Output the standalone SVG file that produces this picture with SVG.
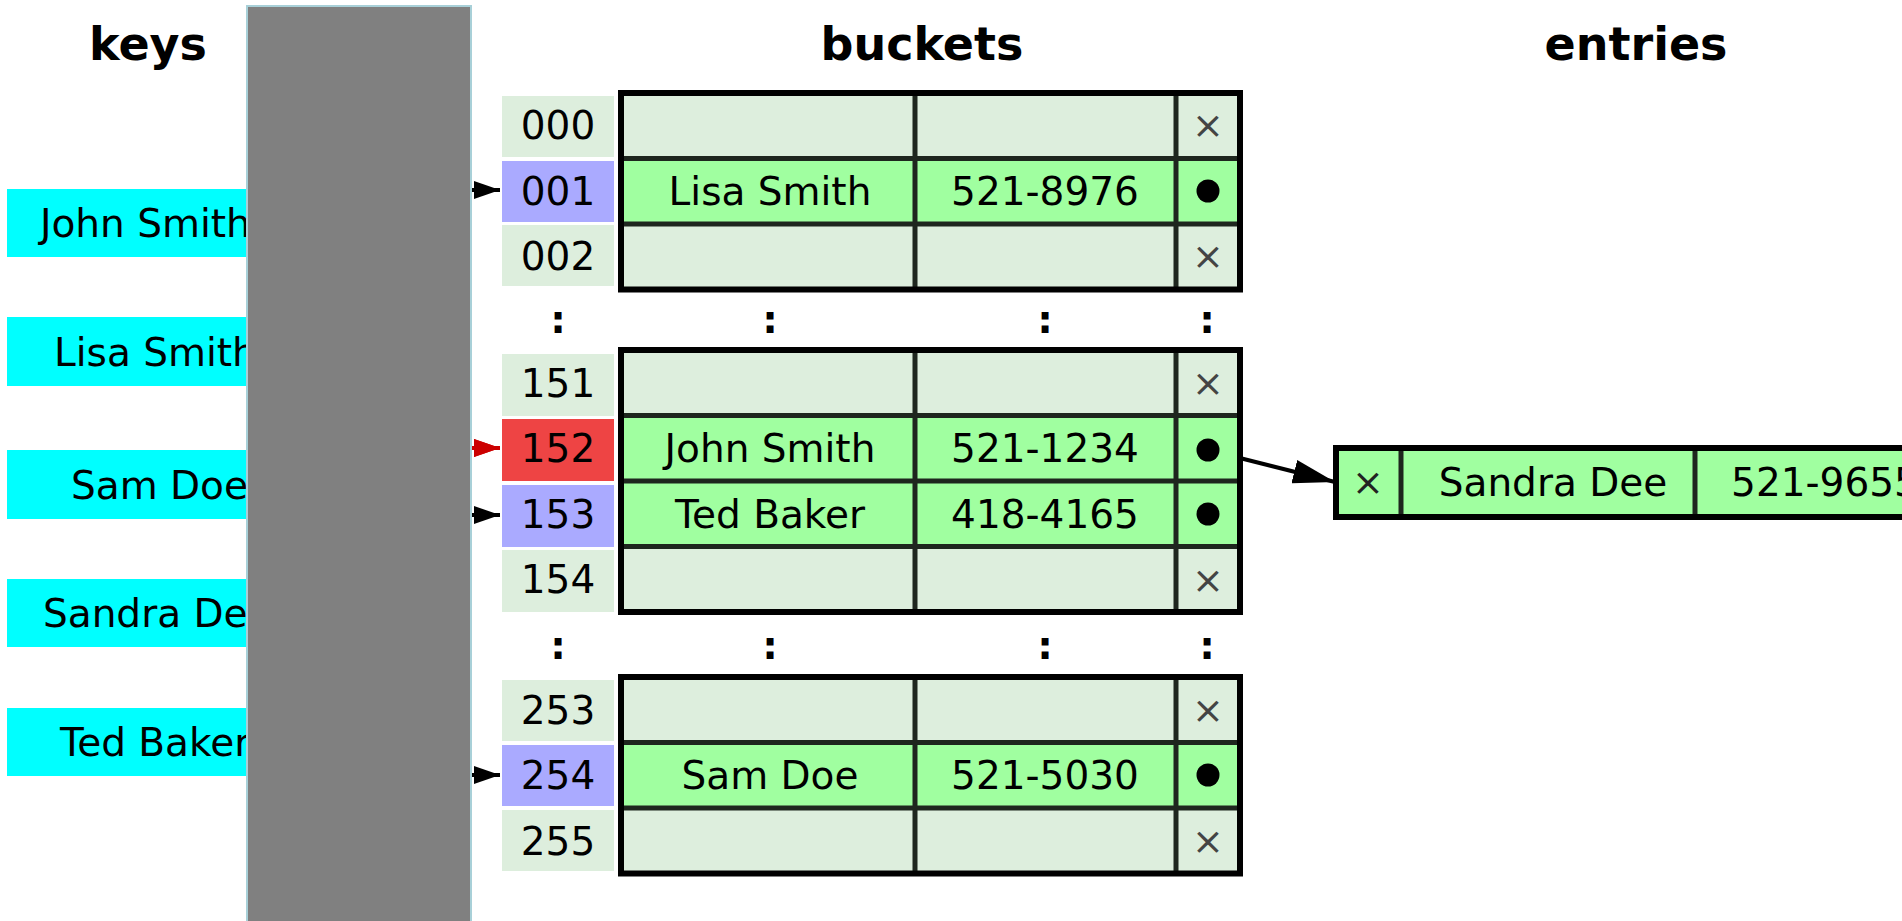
<svg xmlns="http://www.w3.org/2000/svg" width="1902" height="921" viewBox="0 0 1902 921">
<style>
  text { font-family: "DejaVu Sans", "Liberation Sans", sans-serif; fill: #000; }
  .title { font-size: 46px; font-weight: bold; text-anchor: middle; }
  .t { font-size: 39px; }
  .c { font-size: 39px; text-anchor: middle; }
  .x { font-size: 38px; text-anchor: middle; fill: #444; }
  .colon { font-size: 39px; font-weight: bold; text-anchor: middle; }
  .key { fill: #00ffff; }
  .empty { fill: #ddeedd; }
  .full { fill: #a0ffa0; }
  .blue { fill: #aaaaff; }
  .red { fill: #ee4444; }
  .sep { stroke: #1e261e; stroke-width: 5; }
  .outer { fill: none; stroke: #000; stroke-width: 6; }
  .link { fill: none; stroke: #000; stroke-width: 4; }
  .linkred { fill: none; stroke: #cc0000; stroke-width: 4; }
</style>
<defs>
  <marker id="ah" viewBox="0 0 26 18" markerUnits="userSpaceOnUse" markerWidth="26" markerHeight="18" refX="26" refY="9" orient="auto">
    <path d="M0,0 L26,9 L0,18 z" fill="#000"/>
  </marker>
  <marker id="ahr" viewBox="0 0 26 18" markerUnits="userSpaceOnUse" markerWidth="26" markerHeight="18" refX="26" refY="9" orient="auto">
    <path d="M0,0 L26,9 L0,18 z" fill="#cc0000"/>
  </marker>
  <marker id="big" viewBox="0 0 42 24" markerUnits="userSpaceOnUse" markerWidth="42" markerHeight="24" refX="42" refY="12" orient="auto">
    <path d="M0,0 L42,12 L0,24 z" fill="#000"/>
  </marker>
</defs>
<rect width="1902" height="921" fill="#fff"/>

<g id="titles">
  <text class="title" x="148" y="60">keys</text>
  <text class="title" x="922" y="60">buckets</text>
  <text class="title" x="1636" y="60">entries</text>
</g>

<g id="key-john"><rect class="key" x="7" y="189" width="260" height="68"/><text class="t" x="40" y="237">John Smith</text></g>
<g id="key-lisa"><rect class="key" x="7" y="317" width="260" height="69"/><text class="t" x="54" y="366">Lisa Smith</text></g>
<g id="key-sam"><rect class="key" x="7" y="450" width="260" height="69"/><text class="t" x="71" y="499">Sam Doe</text></g>
<g id="key-sandra"><rect class="key" x="7" y="579" width="260" height="68"/><text class="t" x="43" y="627">Sandra Dee</text></g>
<g id="key-ted"><rect class="key" x="7" y="708" width="260" height="68"/><text class="t" x="60" y="756">Ted Baker</text></g>

<g id="connectors">
  <polyline class="linkred" points="260,223 460,448 500,448" marker-end="url(#ahr)"/>
  <polyline class="link" points="260,351 460,190 500,190" marker-end="url(#ah)"/>
  <polyline class="link" points="260,484 460,775 500,775" marker-end="url(#ah)"/>
  <polyline class="linkred" points="260,613 460,448 500,448" marker-end="url(#ahr)"/>
  <polyline class="link" points="260,742 460,515 500,515" marker-end="url(#ah)"/>
  <line class="link" x1="1208" y1="450" x2="1335" y2="482" marker-end="url(#big)"/>
</g>

<g id="hash-function">
  <rect x="247" y="6" width="224" height="920" fill="#808080" stroke="#a8d0d8" stroke-width="2"/>
</g>

<g id="index-000"><rect class="empty" x="502" y="96" width="112" height="61"/><text class="c" x="558" y="139">000</text></g>
<g id="index-001"><rect class="blue" x="502" y="161" width="112" height="61"/><text class="c" x="558" y="205">001</text></g>
<g id="index-002"><rect class="empty" x="502" y="225" width="112" height="61"/><text class="c" x="558" y="270">002</text></g>
<g id="index-151"><rect class="empty" x="502" y="354" width="112" height="62"/><text class="c" x="558" y="397">151</text></g>
<g id="index-152"><rect class="red" x="502" y="419" width="112" height="62"/><text class="c" x="558" y="462">152</text></g>
<g id="index-153"><rect class="blue" x="502" y="485" width="112" height="62"/><text class="c" x="558" y="528">153</text></g>
<g id="index-154"><rect class="empty" x="502" y="550" width="112" height="62"/><text class="c" x="558" y="593">154</text></g>
<g id="index-253"><rect class="empty" x="502" y="680" width="112" height="61"/><text class="c" x="558" y="724">253</text></g>
<g id="index-254"><rect class="blue" x="502" y="745" width="112" height="61"/><text class="c" x="558" y="789">254</text></g>
<g id="index-255"><rect class="empty" x="502" y="810" width="112" height="61"/><text class="c" x="558" y="855">255</text></g>

<g id="buckets-1">
  <rect class="empty" x="621" y="93" width="619" height="65.5"/>
  <rect class="full" x="621" y="158.5" width="619" height="65.5"/>
  <rect class="empty" x="621" y="224" width="619" height="65.5"/>
  <line class="sep" x1="621" y1="158.5" x2="1240" y2="158.5"/>
  <line class="sep" x1="621" y1="224" x2="1240" y2="224"/>
  <line class="sep" x1="915" y1="93" x2="915" y2="289.5"/>
  <line class="sep" x1="1176" y1="93" x2="1176" y2="289.5"/>
  <rect class="outer" x="621" y="93" width="619" height="196.5"/>
  <text class="x" x="1208" y="138">×</text>
  <text class="c" x="770" y="205">Lisa Smith</text>
  <text class="c" x="1045" y="205">521-8976</text>
  <circle cx="1208" cy="191" r="11.5"/>
  <text class="x" x="1208" y="269">×</text>
</g>

<g id="ellipsis-1">
  <text class="colon" x="558" y="333">:</text>
  <text class="colon" x="770" y="333">:</text>
  <text class="colon" x="1045" y="333">:</text>
  <text class="colon" x="1207" y="333">:</text>
</g>

<g id="buckets-2">
  <rect class="empty" x="621" y="350" width="619" height="65.5"/>
  <rect class="full" x="621" y="415.5" width="619" height="65.5"/>
  <rect class="full" x="621" y="481" width="619" height="65.5"/>
  <rect class="empty" x="621" y="546.5" width="619" height="65.5"/>
  <line class="sep" x1="621" y1="415.5" x2="1240" y2="415.5"/>
  <line class="sep" x1="621" y1="481" x2="1240" y2="481"/>
  <line class="sep" x1="621" y1="546.5" x2="1240" y2="546.5"/>
  <line class="sep" x1="915" y1="350" x2="915" y2="612"/>
  <line class="sep" x1="1176" y1="350" x2="1176" y2="612"/>
  <rect class="outer" x="621" y="350" width="619" height="262"/>
  <text class="x" x="1208" y="396">×</text>
  <text class="c" x="770" y="462">John Smith</text>
  <text class="c" x="1045" y="462">521-1234</text>
  <circle cx="1208" cy="450" r="11.5"/>
  <text class="c" x="770" y="528">Ted Baker</text>
  <text class="c" x="1045" y="528">418-4165</text>
  <circle cx="1208" cy="514" r="11.5"/>
  <text class="x" x="1208" y="593">×</text>
</g>

<g id="ellipsis-2">
  <text class="colon" x="558" y="659">:</text>
  <text class="colon" x="770" y="659">:</text>
  <text class="colon" x="1045" y="659">:</text>
  <text class="colon" x="1207" y="659">:</text>
</g>

<g id="buckets-3">
  <rect class="empty" x="621" y="677" width="619" height="65.5"/>
  <rect class="full" x="621" y="742.5" width="619" height="65.5"/>
  <rect class="empty" x="621" y="808" width="619" height="65.5"/>
  <line class="sep" x1="621" y1="742.5" x2="1240" y2="742.5"/>
  <line class="sep" x1="621" y1="808" x2="1240" y2="808"/>
  <line class="sep" x1="915" y1="677" x2="915" y2="873.5"/>
  <line class="sep" x1="1176" y1="677" x2="1176" y2="873.5"/>
  <rect class="outer" x="621" y="677" width="619" height="196.5"/>
  <text class="x" x="1208" y="723">×</text>
  <text class="c" x="770" y="789">Sam Doe</text>
  <text class="c" x="1045" y="789">521-5030</text>
  <circle cx="1208" cy="775" r="11.5"/>
  <text class="x" x="1208" y="854">×</text>
</g>

<g id="entry-sandra">
  <rect class="full" x="1336" y="448" width="620" height="69"/>
  <line class="sep" x1="1401" y1="448" x2="1401" y2="517"/>
  <line class="sep" x1="1695" y1="448" x2="1695" y2="517"/>
  <rect class="outer" x="1336" y="448" width="620" height="69" stroke-width="5"/>
  <text class="x" x="1368" y="495" style="fill:#222">×</text>
  <text class="c" x="1553" y="496">Sandra Dee</text>
  <text class="c" x="1825" y="496">521-9655</text>
</g>
</svg>
